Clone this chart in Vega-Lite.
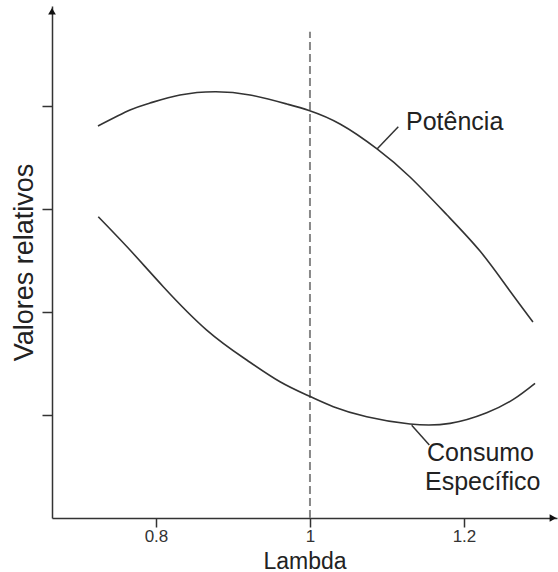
{
  "$schema": "https://vega.github.io/schema/vega-lite/v6.json",
  "width": 505,
  "height": 512,
  "autosize": "none",
  "padding": {"left": 52, "top": 6, "right": 1, "bottom": 54},
  "background": "white",
  "config": {
    "view": {"stroke": null},
    "font": "Liberation Sans",
    "axis": {
      "grid": false,
      "domainColor": "#333",
      "domainWidth": 1.5,
      "tickColor": "#333",
      "tickWidth": 1.5,
      "tickSize": 10,
      "labelFont": "Liberation Sans",
      "labelFontSize": 17,
      "labelColor": "#333",
      "titleFont": "Liberation Sans",
      "titleFontSize": 23,
      "titleFontWeight": "normal",
      "titleColor": "#222"
    }
  },
  "datasets": {
    "curves": [
      {"serie": "Potência", "lambda": 0.7247, "v": 3.806},
      {"serie": "Potência", "lambda": 0.7663, "v": 3.961},
      {"serie": "Potência", "lambda": 0.7923, "v": 4.029},
      {"serie": "Potência", "lambda": 0.8312, "v": 4.107},
      {"serie": "Potência", "lambda": 0.8767, "v": 4.139},
      {"serie": "Potência", "lambda": 0.9221, "v": 4.107},
      {"serie": "Potência", "lambda": 0.9702, "v": 4.019},
      {"serie": "Potência", "lambda": 0.9988, "v": 3.956},
      {"serie": "Potência", "lambda": 1.039, "v": 3.825},
      {"serie": "Potência", "lambda": 1.0871, "v": 3.583},
      {"serie": "Potência", "lambda": 1.1299, "v": 3.311},
      {"serie": "Potência", "lambda": 1.178, "v": 2.942},
      {"serie": "Potência", "lambda": 1.2208, "v": 2.592},
      {"serie": "Potência", "lambda": 1.2559, "v": 2.243},
      {"serie": "Potência", "lambda": 1.2896, "v": 1.903},
      {"serie": "Consumo", "lambda": 0.7251, "v": 2.925},
      {"serie": "Consumo", "lambda": 0.7663, "v": 2.602},
      {"serie": "Consumo", "lambda": 0.8095, "v": 2.246},
      {"serie": "Consumo", "lambda": 0.8659, "v": 1.825},
      {"serie": "Consumo", "lambda": 0.9179, "v": 1.534},
      {"serie": "Consumo", "lambda": 0.9611, "v": 1.323},
      {"serie": "Consumo", "lambda": 0.9988, "v": 1.184},
      {"serie": "Consumo", "lambda": 1.0303, "v": 1.081},
      {"serie": "Consumo", "lambda": 1.0737, "v": 0.983},
      {"serie": "Consumo", "lambda": 1.1299, "v": 0.913},
      {"serie": "Consumo", "lambda": 1.1819, "v": 0.919},
      {"serie": "Consumo", "lambda": 1.2295, "v": 1.022},
      {"serie": "Consumo", "lambda": 1.2641, "v": 1.152},
      {"serie": "Consumo", "lambda": 1.2923, "v": 1.308}
    ],
    "leaders": [
      {"x1": 1.0871, "y1": 3.583, "x2": 1.1147, "y2": 3.799},
      {"x1": 1.1321, "y1": 0.9, "x2": 1.155, "y2": 0.709}
    ],
    "labels": [
      {"label": "Potência", "lambda": 1.1247, "v": 3.845},
      {"label": "Consumo", "lambda": 1.152, "v": 0.631},
      {"label": "Específico", "lambda": 1.1494, "v": 0.35}
    ],
    "refline": [{"lambda": 1.0, "v0": 0, "v1": 4.72}],
    "arrows": [
      {"lambda": 0.665, "v": 4.92, "shape": "triangle-up"},
      {"lambda": 1.3156, "v": 0, "shape": "triangle-right"}
    ]
  },
  "layer": [
    {
      "data": {"name": "refline"},
      "mark": {"type": "rule", "color": "#888", "strokeWidth": 2, "strokeDash": [8, 4]},
      "encoding": {
        "x": {"field": "lambda", "type": "quantitative", "scale": {"domain": [0.665, 1.3208], "nice": false, "zero": false},
          "axis": {"values": [0.8, 1, 1.2], "title": "Lambda", "tickSize": 9, "labelPadding": 1, "titleY": 50, "titleBaseline": "alphabetic", "format": "~g"}},
        "y": {"field": "v0", "type": "quantitative", "scale": {"domain": [0, 4.971], "nice": false},
          "axis": {"values": [1, 2, 3, 4], "labels": false, "title": "Valores relativos", "titleFontSize": 27, "titlePadding": 3}},
        "y2": {"field": "v1"}
      }
    },
    {
      "data": {"name": "curves"},
      "mark": {"type": "line", "color": "#333", "strokeWidth": 1.6, "interpolate": "natural"},
      "encoding": {
        "x": {"field": "lambda", "type": "quantitative"},
        "y": {"field": "v", "type": "quantitative"},
        "detail": {"field": "serie"}
      }
    },
    {
      "data": {"name": "leaders"},
      "mark": {"type": "rule", "color": "#333", "strokeWidth": 1.5},
      "encoding": {
        "x": {"field": "x1", "type": "quantitative"},
        "y": {"field": "y1", "type": "quantitative"},
        "x2": {"field": "x2"},
        "y2": {"field": "y2"}
      }
    },
    {
      "data": {"name": "labels"},
      "mark": {"type": "text", "align": "left", "baseline": "middle", "fontSize": 25, "color": "#222", "font": "Liberation Sans"},
      "encoding": {
        "x": {"field": "lambda", "type": "quantitative"},
        "y": {"field": "v", "type": "quantitative"},
        "text": {"field": "label"}
      }
    },
    {
      "data": {"name": "arrows"},
      "mark": {"type": "point", "filled": true, "color": "#111", "size": 60, "opacity": 1},
      "encoding": {
        "x": {"field": "lambda", "type": "quantitative"},
        "y": {"field": "v", "type": "quantitative"},
        "shape": {"field": "shape", "type": "nominal", "scale": null, "legend": null}
      }
    }
  ]
}
